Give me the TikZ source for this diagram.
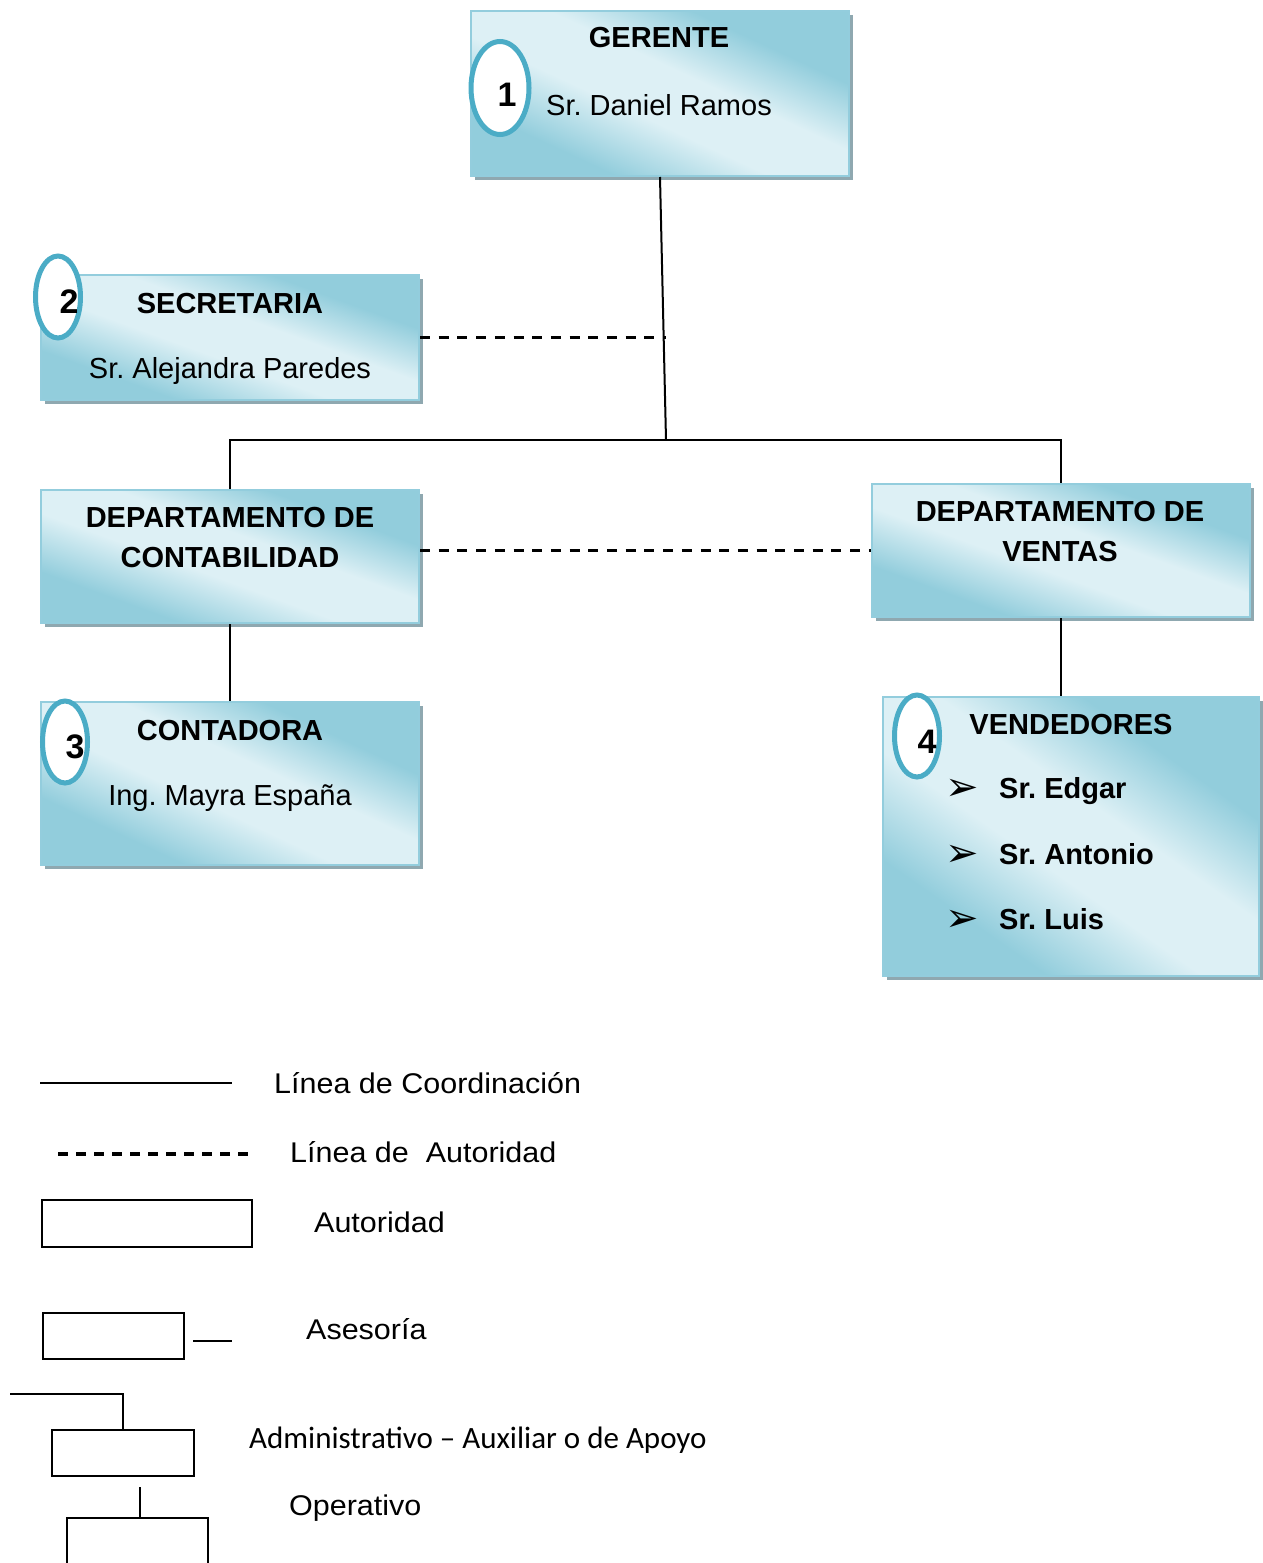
\documentclass[tikz,border=0pt]{standalone}
\usepackage{fontspec}
\setmainfont{Liberation Sans}
\newfontfamily\leyfont{Liberation Sans}[FakeStretch=1.07]
\newfontfamily\calibri{Carlito}
\newfontfamily\dingfont{DejaVu Sans}
\usetikzlibrary{shapes.geometric,shadows}
\definecolor{celeste}{HTML}{92CDDC}
\definecolor{celesteclaro}{HTML}{DDF0F5}
\definecolor{borde}{HTML}{93CDDD}
\definecolor{sombra}{HTML}{8FA8B0}
\definecolor{azulovalo}{HTML}{4BACC6}
\pgfdeclarehorizontalshading{cajaazul}{100bp}{color(0bp)=(celeste); color(30bp)=(celeste);
  color(44bp)=(celesteclaro); color(56bp)=(celesteclaro); color(69bp)=(celeste); color(100bp)=(celeste)}
\tikzset{
  caja/.style={rectangle,anchor=north west,inner sep=0pt,draw=borde,line width=2pt,
    shading=cajaazul,shading angle=65,
    drop shadow={shadow xshift=4pt,shadow yshift=-4pt,fill=sombra,opacity=1}},
  ovalo/.style={ellipse,draw=azulovalo,line width=5pt,fill=white,inner sep=0pt},
  titulo/.style={anchor=base,font=\bfseries\fontsize{29}{34}\selectfont},
  nombre/.style={anchor=base,font=\fontsize{29}{34}\selectfont},
  numero/.style={anchor=base,font=\bfseries\fontsize{34}{40}\selectfont},
  vinyeta/.style={anchor=base,font=\dingfont\fontsize{40}{44}\selectfont},
  coordinacion/.style={line width=2pt},
  autoridad/.style={line width=2.4pt,dash pattern=on 10pt off 8.7pt},
  leyenda/.style={anchor=base west,inner sep=0pt,font=\leyfont\fontsize{28.5}{34}\selectfont}
}
\begin{document}
\frenchspacing
\begin{tikzpicture}[x=1pt,y=-1pt]
\useasboundingbox(0,0)rectangle(1262,1563);
% cajas
\node[caja,minimum width=378,minimum height=165](ger)at(470,10){};
\node[caja,minimum width=378,minimum height=125,shading angle=70](sec)at(40,274){};
\node[caja,minimum width=378,minimum height=133,shading angle=70](cont)at(40,489){};
\node[caja,minimum width=378,minimum height=133,shading angle=70](vent)at(871,483){};
\node[caja,minimum width=378,minimum height=163](conta)at(40,701){};
\node[caja,minimum width=376,minimum height=279,shading angle=55](vend)at(882,696){};
% lineas
\coordinate(cruce)at(666,440);
\draw[coordinacion](ger.south)--(cruce);
\draw[coordinacion](cont.north)|-(cruce)-|(vent.north);
\draw[autoridad](sec.east)--(sec.east-|cruce);
\draw[autoridad](vent.west-|cont.east)--(vent.west);
\draw[coordinacion](cont.south)--(conta.north);
\draw[coordinacion](vent.south)--(vent.south|-vend.north);
% textos
\node[titulo](tger)at(659,48){GERENTE};
\node[nombre](nger)at(659,115){Sr. Daniel Ramos};
\node[titulo](tsec)at(230,313){SECRETARIA};
\node[nombre](nsec)at(230,378){Sr. Alejandra Paredes};
\node[titulo](tcont1)at(230,527){DEPARTAMENTO DE};
\node[titulo](tcont2)at(230,567){CONTABILIDAD};
\node[titulo](tvent1)at(1060,521){DEPARTAMENTO DE};
\node[titulo](tvent2)at(1060,561){VENTAS};
\node[titulo](tconta)at(230,740){CONTADORA};
\node[nombre](nconta)at(230,805){Ing. Mayra España};
\node[titulo](tvend)at(1071,734){VENDEDORES};
\foreach \nom[count=\i] in {Edgar,Antonio,Luis}{
  \node[vinyeta](b\i)at(962,735+65.5*\i){➢};
  \node[titulo,anchor=base west,inner sep=0pt](v\i)at(999,733+65.5*\i){Sr. \nom};
}
% ovalos
\node[ovalo,minimum width=58,minimum height=93](o1)at(500,88){};
\node[ovalo,minimum width=45,minimum height=82](o2)at(58,297){};
\node[ovalo,minimum width=45,minimum height=82](o3)at(65,742){};
\node[ovalo,minimum width=45,minimum height=82](o4)at(917,736){};
\node[numero](n1)at(507,106){1};
\node[numero](n2)at(69,313){2};
\node[numero](n3)at(75,758){3};
\node[numero](n4)at(927,753){4};
% leyenda
\draw[coordinacion](40,1083)--(232,1083);
\node[leyenda](l1)at(274,1093){Línea de Coordinación};
\draw[line width=3.5pt,dash pattern=on 10pt off 8pt](58,1154)--(255,1154);
\node[leyenda](l2)at(290,1162){Línea de\ \ Autoridad};
\draw[line width=2pt](42,1200)rectangle(252,1247);
\node[leyenda](l3)at(314,1232){Autoridad};
\draw[line width=2pt](43,1313)rectangle(184,1359);
\draw[line width=2pt](193,1341)--(232,1341);
\node[leyenda](l4)at(306,1339){Asesoría};
\draw[line width=2pt](10,1394)-|(123,1430);
\draw[line width=2pt](52,1430)rectangle(194,1476);
\node[leyenda,font=\calibri\fontsize{31}{36}\selectfont](l5)at(249,1448){Administrativo – Auxiliar o de Apoyo};
\draw[line width=2pt](140,1487)--(140,1518);
\draw[line width=2pt](67,1563)|-(208,1518)--(208,1563);
\node[leyenda](l6)at(289,1515){Operativo};
\end{tikzpicture}
\end{document}
